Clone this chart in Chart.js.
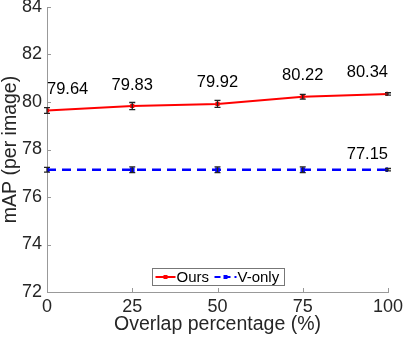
<!DOCTYPE html>
<html>
<head>
<meta charset="utf-8">
<script src="https://cdn.jsdelivr.net/npm/chart.js@4"></script>
<style>
  html, body { margin: 0; padding: 0; background: #fff; }
  #chart { display: block; }
</style>
</head>
<body>
<canvas id="chart" width="407" height="339"></canvas>
<script>
// overlap percentages on the x axis
var overlap = [0, 25, 50, 75, 100];
// mAP values
var oursData = [79.64, 79.83, 79.92, 80.22, 80.34];
var vonlyData = [77.15, 77.15, 77.15, 77.15, 77.15];
// error bar half-widths
var oursErr = [0.12, 0.15, 0.15, 0.1, 0.05];
var vonlyErr = [0.1, 0.12, 0.12, 0.12, 0.05];
var xTicks = [0, 25, 50, 75, 100];
var yTicks = [72, 74, 76, 78, 80, 82, 84];

var FONT = '"Liberation Sans", Arial, sans-serif';
var TEXT = '#262626';

// error bars, inward ticks, value labels and legend box
var extras = {
    id: 'extras',
    afterDatasetsDraw: function (chart) {
        var ctx = chart.ctx, xs = chart.scales.x, ys = chart.scales.y;
        var area = chart.chartArea;
        ctx.save();
        // error bars
        ctx.strokeStyle = '#222';
        ctx.lineWidth = 1.3;
        [[oursData, oursErr], [vonlyData, vonlyErr]].forEach(function (s) {
            s[0].forEach(function (v, i) {
                var px = xs.getPixelForValue(overlap[i]);
                var top = ys.getPixelForValue(v + s[1][i]);
                var bot = ys.getPixelForValue(v - s[1][i]);
                ctx.beginPath();
                ctx.moveTo(px, top); ctx.lineTo(px, bot);
                ctx.moveTo(px - 3, top); ctx.lineTo(px + 3, top);
                ctx.moveTo(px - 3, bot); ctx.lineTo(px + 3, bot);
                ctx.stroke();
            });
        });
        // inward ticks
        ctx.strokeStyle = '#999';
        ctx.lineWidth = 1;
        ctx.beginPath();
        xTicks.forEach(function (t) {
            var px = Math.round(xs.getPixelForValue(t)) + 0.5;
            ctx.moveTo(px, area.bottom); ctx.lineTo(px, area.bottom - 4);
        });
        yTicks.forEach(function (t) {
            var py = Math.round(ys.getPixelForValue(t)) + 0.5;
            ctx.moveTo(area.left, py); ctx.lineTo(area.left + 4, py);
        });
        ctx.stroke();
        // value labels
        ctx.fillStyle = '#000';
        ctx.font = '16.5px ' + FONT;
        ctx.textBaseline = 'middle';
        oursData.forEach(function (v, i) {
            var px = xs.getPixelForValue(overlap[i]);
            ctx.textAlign = i === 0 ? 'left' : (i === oursData.length - 1 ? 'right' : 'center');
            ctx.fillText(v.toFixed(2), px, ys.getPixelForValue(v) - 21);
        });
        var last = vonlyData.length - 1;
        ctx.textAlign = 'right';
        ctx.fillText(vonlyData[last].toFixed(2), xs.getPixelForValue(overlap[last]),
            ys.getPixelForValue(vonlyData[last]) - 15);
        // legend box
        var lx = 152.5, ly = 268.5, lw = 132, lh = 17;
        ctx.fillStyle = '#fff';
        ctx.fillRect(lx, ly, lw, lh);
        ctx.strokeStyle = '#777';
        ctx.strokeRect(lx, ly, lw, lh);
        var cy = ly + lh / 2;
        ctx.lineWidth = 2;
        ctx.strokeStyle = '#ff0000';
        ctx.beginPath(); ctx.moveTo(lx + 3, cy); ctx.lineTo(lx + 23, cy); ctx.stroke();
        ctx.fillStyle = '#ff0000';
        ctx.fillRect(lx + 11, cy - 2, 4, 4);
        ctx.strokeStyle = '#0000ff';
        ctx.setLineDash([6, 4]);
        ctx.beginPath(); ctx.moveTo(lx + 62, cy); ctx.lineTo(lx + 84, cy); ctx.stroke();
        ctx.setLineDash([]);
        ctx.fillStyle = '#0000ff';
        ctx.fillRect(lx + 71, cy - 2, 4, 4);
        ctx.fillStyle = '#000';
        ctx.font = '15px ' + FONT;
        ctx.textAlign = 'left';
        ctx.fillText('Ours', lx + 24, cy + 1);
        ctx.fillText('V-only', lx + 85, cy + 1);
        ctx.restore();
    }
};

new Chart(document.getElementById('chart').getContext('2d'), {
    type: 'line',
    data: {
        datasets: [{
            label: 'Ours',
            data: overlap.map(function (x, i) { return { x: x, y: oursData[i] }; }),
            borderColor: '#ff0000',
            backgroundColor: '#ff0000',
            borderWidth: 2,
            pointStyle: 'rect',
            pointRadius: 1.5,
            tension: 0
        }, {
            label: 'V-only',
            data: overlap.map(function (x, i) { return { x: x, y: vonlyData[i] }; }),
            borderColor: '#0000ff',
            backgroundColor: '#0000ff',
            borderWidth: 2.5,
            borderDash: [9, 6],
            pointStyle: 'rect',
            pointRadius: 1.5,
            tension: 0
        }]
    },
    options: {
        responsive: false,
        animation: false,
        layout: { padding: { top: 7, right: 19, left: 0, bottom: 0 } },
        plugins: {
            legend: { display: false },
            tooltip: { enabled: false }
        },
        scales: {
            x: {
                type: 'linear',
                min: 0,
                max: 100,
                afterBuildTicks: function (s) { s.ticks = xTicks.map(function (v) { return { value: v }; }); },
                afterFit: function (s) { s.height = 47; s.paddingLeft = 0; s.paddingRight = 0; },
                grid: { display: false, drawTicks: false },
                border: { display: true, color: '#999', width: 1 },
                ticks: { color: TEXT, font: { size: 18, family: FONT }, padding: 4, maxRotation: 0 },
                title: { display: true, text: 'Overlap percentage (%)', color: TEXT,
                    font: { size: 19.5, family: FONT }, padding: { top: 0, bottom: 3 } }
            },
            y: {
                min: 72,
                max: 84,
                afterBuildTicks: function (s) { s.ticks = yTicks.map(function (v) { return { value: v }; }); },
                afterFit: function (s) { s.width = 47; s.paddingTop = 0; s.paddingBottom = 0; },
                grid: { display: false, drawTicks: false },
                border: { display: true, color: '#999', width: 1 },
                ticks: { color: TEXT, font: { size: 18, family: FONT }, padding: 5 },
                title: { display: true, text: 'mAP (per image)', color: TEXT,
                    font: { size: 19.5, family: FONT, lineHeight: 1.05 }, padding: { top: 0, bottom: 0 } }
            }
        }
    },
    plugins: [extras]
});
</script>
</body>
</html>
